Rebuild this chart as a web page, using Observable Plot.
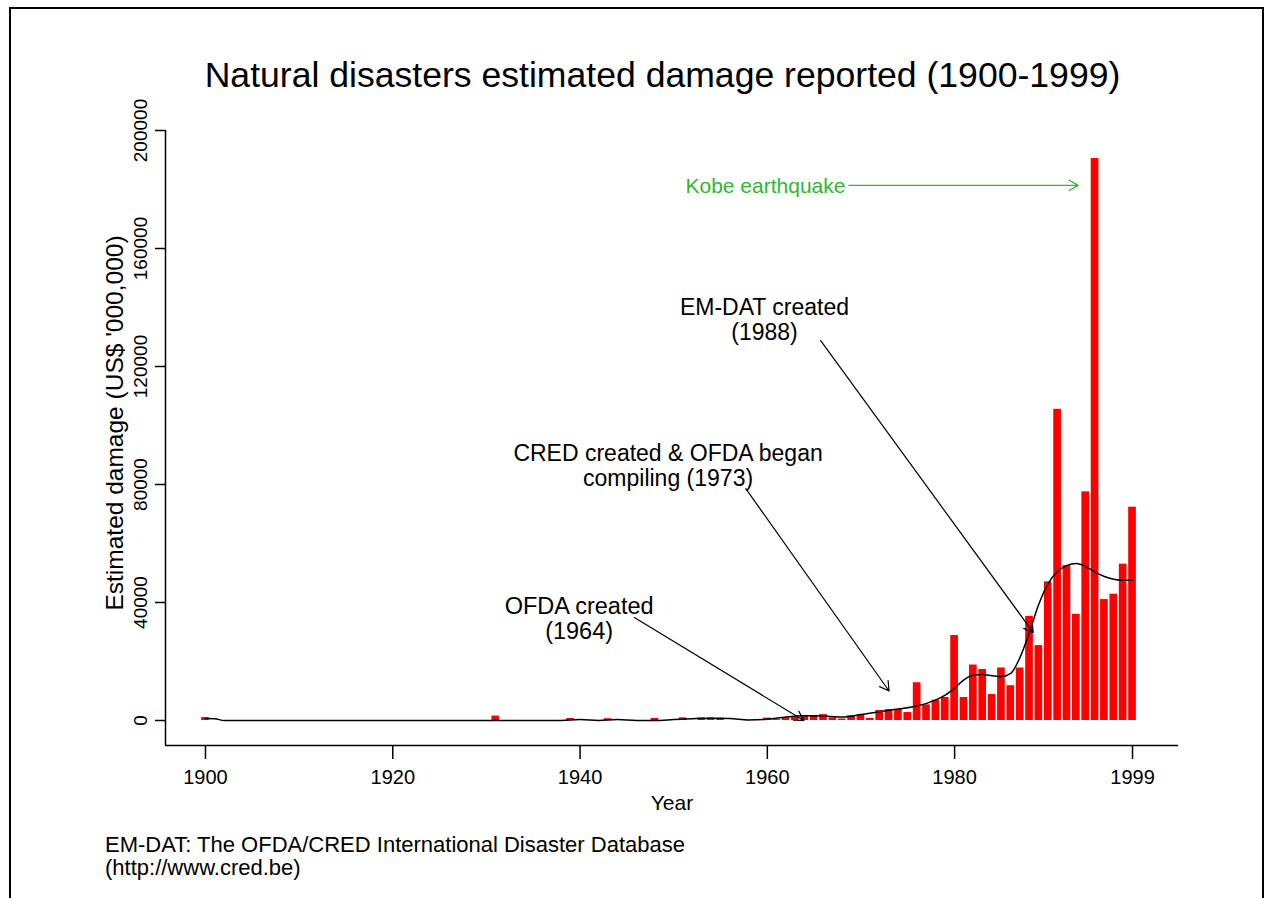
<!DOCTYPE html>
<html>
<head>
<meta charset="utf-8">
<script src="https://cdn.jsdelivr.net/npm/d3@7"></script>
<script src="https://cdn.jsdelivr.net/npm/@observablehq/plot@0.6"></script>
<style>
  html, body { margin: 0; padding: 0; background: #fff; }
  body { width: 1268px; height: 898px; overflow: hidden; position: relative; font-family: "Liberation Sans", Arial, sans-serif; }
  #frame { position: absolute; left: 9px; top: 7px; width: 1255px; height: 900px; border: 2px solid #000; box-sizing: border-box; }
  #chart { position: absolute; left: 0; top: 0; }
  #title { position: absolute; left: 0; width: 1325px; top: 55px; text-align: center; font-size: 35.6px; color: #000; }
  #caption { position: absolute; left: 105px; top: 833px; font-size: 22px; line-height: 23px; color: #000; }
</style>
</head>
<body>
<div id="chart"></div>
<div id="frame"></div>
<div id="title">Natural disasters estimated damage reported (1900-1999)</div>
<div id="caption">EM-DAT: The OFDA/CRED International Disaster Database<br>(http://www.cred.be)</div>
<script>
// ---- data ----
const years = [1900, 1931, 1939, 1943, 1948, 1951, 1953, 1954, 1955,
  1960, 1961, 1962, 1963, 1964, 1965, 1966, 1967, 1968, 1969,
  1970, 1971, 1972, 1973, 1974, 1975, 1976, 1977, 1978, 1979,
  1980, 1981, 1982, 1983, 1984, 1985, 1986, 1987, 1988, 1989,
  1990, 1991, 1992, 1993, 1994, 1995, 1996, 1997, 1998, 1999];
const damage = [1000, 1500, 700, 600, 700, 900, 900, 900, 800,
  800, 300, 900, 1100, 1500, 1600, 2000, 900, 500, 1600,
  1800, 700, 3400, 3700, 3800, 2700, 12800, 5300, 6900, 7800,
  28800, 7800, 18800, 17300, 8800, 17800, 11800, 17800, 35300, 25400,
  47000, 105500, 52500, 36000, 77500, 190500, 41000, 42800, 53000, 72300];

const smoothYears = [1900, 1901, 1902, 1910, 1920, 1930, 1935, 1938, 1940, 1942, 1944, 1946, 1948, 1950,
  1952, 1954, 1956, 1958, 1960, 1962, 1964, 1966, 1968, 1970, 1972, 1974, 1976, 1978, 1979,
  1980, 1981, 1982, 1983, 1984, 1985, 1986, 1987, 1988, 1989, 1990, 1991, 1992, 1993, 1994,
  1995, 1996, 1997, 1998, 1999];
const smoothValues = [700, 600, 0, 0, 0, 0, 0, 0, 300, 0, 300, 0, 0, 300,
  600, 800, 700, 200, 400, 1200, 1600, 1500, 1200, 2000, 3000, 3900, 4900, 7000, 8600,
  11000, 13800, 15400, 15600, 15200, 14900, 16000, 21500, 30000, 39500, 46500, 50500, 52600, 53200, 52200,
  50300, 48800, 47900, 47500, 47600];

const xTicks = [1900, 1920, 1940, 1960, 1980, 1999];
const yTicks = [0, 40000, 80000, 120000, 160000, 200000];

const noteLabels = ["Kobe earthquake", "EM-DAT created\n(1988)", "CRED created & OFDA began\ncompiling (1973)", "OFDA created\n(1964)"];
const noteX = [1959.8, 1959.7, 1949.4, 1939.9];
const noteY = [181400, 136000, 86400, 34600];
const noteSize = [21, 23, 23, 23.5];
const noteColor = ["#2eb82e", "#000", "#000", "#000"];
const arrowX1 = [1968.7, 1965.7, 1957.7, 1945.8];
const arrowY1 = [181400, 128800, 78600, 34900];
const arrowX2 = [1993.2, 1988.4, 1973.0, 1963.9];
const arrowY2 = [181400, 29800, 10000, 0];

const xLabel = "Year";
const yLabel = "Estimated damage (US$ '000,000)";

// ---- tables ----
const bars = years.map((y, i) => ({year: y, value: damage[i]}));
const smooth = smoothYears.map((y, i) => ({year: y, value: smoothValues[i]}));
const notes = noteLabels.map((t, i) => ({text: t, x: noteX[i], y: noteY[i], color: noteColor[i], size: noteSize[i],
  x1: arrowX1[i], y1: arrowY1[i], x2: arrowX2[i], y2: arrowY2[i]}));

const xDomain = [1895.73, 2003.91];
const yDomain = [-8475, 200000];
const font = "Liberation Sans, Arial, sans-serif";

const plot = Plot.plot({
  width: 1268,
  height: 898,
  marginLeft: 165,
  marginRight: 90,
  marginTop: 130,
  marginBottom: 153,
  style: {fontFamily: font, background: "transparent", color: "#000"},
  x: {type: "linear", domain: xDomain, axis: null},
  y: {domain: yDomain, axis: null},
  marks: [
    Plot.rectY(bars, {x1: d => d.year - 0.41, x2: d => d.year + 0.41, y1: 0, y2: "value", fill: "#ff0000"}),
    Plot.line(smooth, {x: "year", y: "value", stroke: "#000", strokeWidth: 1.5, curve: "monotone-x"}),
    Plot.ruleX([xDomain[0]], {stroke: "#000", strokeWidth: 1.5}),
    Plot.ruleY([yDomain[0]], {stroke: "#000", strokeWidth: 1.5}),
    Plot.axisX({ticks: xTicks, tickSize: 14, tickPadding: 10, fontSize: 20, tickFormat: d => String(d), strokeWidth: 1.5, label: null}),
    Plot.axisY({ticks: yTicks, tickSize: 10, tickFormat: () => "", strokeWidth: 1.5, label: null}),
    Plot.text(yTicks, {y: d => d, text: d => String(d), frameAnchor: "left", dx: -25, rotate: -90, textAnchor: "middle", lineAnchor: "middle", fontSize: 19}),
    Plot.text([xLabel], {text: d => d, frameAnchor: "bottom", dy: 58, textAnchor: "middle", lineAnchor: "middle", fontSize: 21}),
    Plot.text([yLabel], {text: d => d, frameAnchor: "left", dx: -50, dy: -15, rotate: -90, textAnchor: "middle", lineAnchor: "middle", fontSize: 24.5}),
    Plot.arrow(notes, {x1: "x1", y1: "y1", x2: "x2", y2: "y2", stroke: "color", strokeWidth: 1.2, headLength: 13, headAngle: 60}),
    Plot.text(notes, {x: "x", y: "y", text: "text", fill: "color", fontSize: "size", lineHeight: 1.08, textAnchor: "middle", lineAnchor: "middle"})
  ]
});
document.getElementById("chart").appendChild(plot);
</script>
</body>
</html>
